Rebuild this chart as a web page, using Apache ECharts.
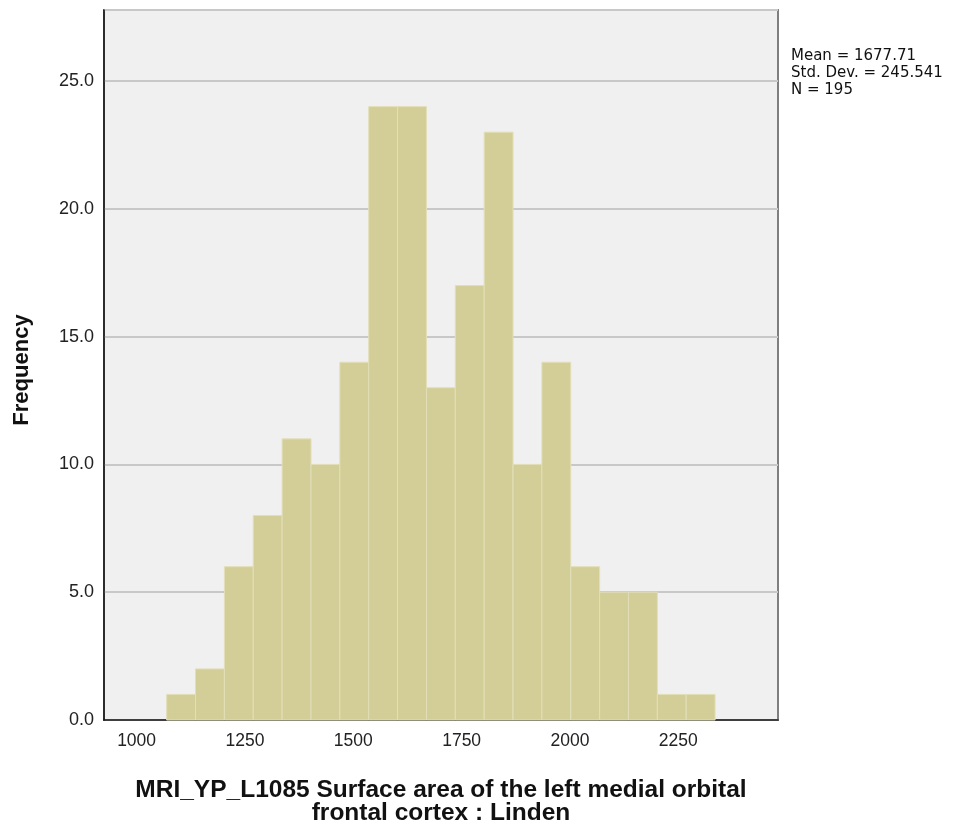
<!DOCTYPE html>
<html>
<head>
<meta charset="utf-8">
<script src="https://cdn.jsdelivr.net/npm/echarts@6/dist/echarts.min.js"></script>
<style>
html,body{margin:0;padding:0;background:#fff;}
#c{width:953px;height:827px;}
</style>
</head>
<body>
<div id="c"></div>
<script>
const binStart = 1069.4;
const binWidth = 66.6;
const frequencies = [1, 2, 6, 8, 11, 10, 14, 24, 24, 13, 17, 23, 10, 14, 6, 5, 5, 1, 1];
const xTicks = [1000, 1250, 1500, 1750, 2000, 2250];
const yTicks = [0, 5, 10, 15, 20, 25];
const statsLines = ['Mean = 1677.71', 'Std. Dev. = 245.541', 'N = 195'];
const xTitle = 'MRI_YP_L1085 Surface area of the left medial orbital\nfrontal cortex : Linden';
const yTitle = 'Frequency';

const binData = frequencies.map((f, i) => [binStart + i * binWidth, binStart + (i + 1) * binWidth, f]);

const chart = echarts.init(document.getElementById('c'), null, {renderer: 'canvas'});
const font = 'Liberation Sans, Arial, sans-serif';
chart.setOption({
  animation: false,
  backgroundColor: '#ffffff',
  textStyle: {fontFamily: font},
  grid: {
    left: 104, top: 10, right: 175, bottom: 107,
    outerBoundsMode: 'none', containLabel: false,
    show: true, backgroundColor: '#F0F0F0', borderColor: '#7f7f7f', borderWidth: 2
  },
  graphic: [{
    type: 'text', left: 791, top: 48,
    style: {text: statsLines.join('\n'), font: '15px DejaVu Sans, sans-serif', fill: '#111', lineHeight: 17}
  }, {
    type: 'text', x: 22, y: 370, rotation: Math.PI / 2,
    style: {text: yTitle, font: 'bold 22px ' + font, fill: '#111', align: 'center', verticalAlign: 'middle'}
  }],
  xAxis: {
    type: 'value', min: 924.8, max: 2480,
    name: xTitle, nameLocation: 'middle', nameGap: 59,
    nameTextStyle: {fontSize: 24.5, fontWeight: 'bold', color: '#111', lineHeight: 23, fontFamily: font},
    axisLine: {show: true, onZero: false, lineStyle: {color: '#111', width: 1.5}},
    axisTick: {show: false},
    splitLine: {show: false},
    axisLabel: {customValues: xTicks, fontSize: 17.5, color: '#222', margin: 12, fontFamily: font,
      formatter: v => String(v)}
  },
  yAxis: {
    type: 'value', min: 0, max: 27.78,
    axisLine: {show: true, lineStyle: {color: '#111', width: 1.5}},
    axisTick: {show: false},
    axisLabel: {customValues: yTicks, fontSize: 18, color: '#222', margin: 10, fontFamily: font,
      formatter: v => v.toFixed(1)},
    splitLine: {show: true, customValues: yTicks, lineStyle: {color: '#C8C8C8', width: 2}}
  },
  series: [{
    type: 'custom',
    data: binData,
    encode: {x: [0, 1], y: 2},
    renderItem: function (params, api) {
      const p0 = api.coord([api.value(0), api.value(2)]);
      const p1 = api.coord([api.value(1), 0]);
      return {
        type: 'rect',
        shape: {x: p0[0], y: p0[1], width: p1[0] - p0[0], height: p1[1] - p0[1]},
        style: {fill: '#D3CE97', stroke: '#E2DFB8', lineWidth: 1}
      };
    }
  }]
});
</script>
</body>
</html>
